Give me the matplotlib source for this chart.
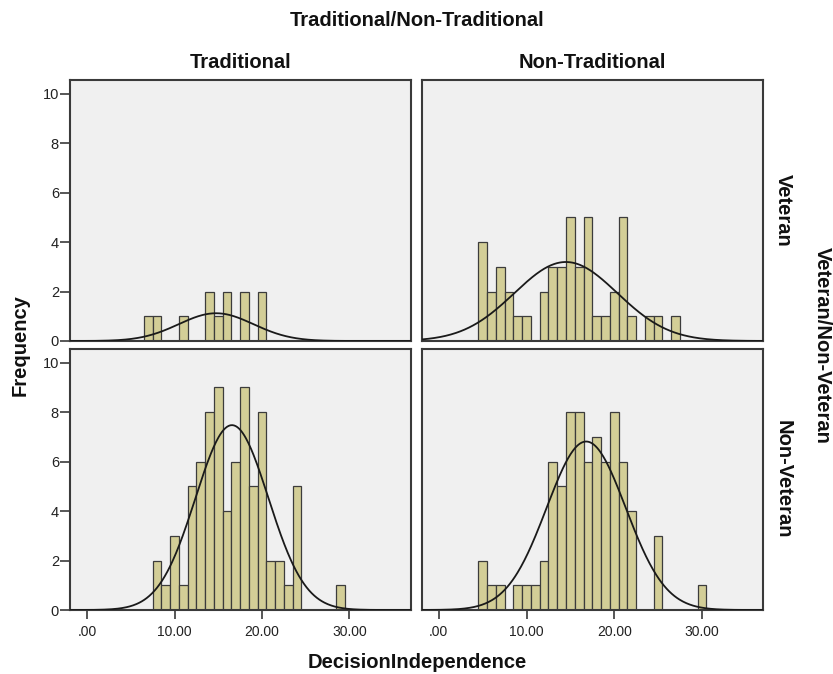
import numpy as np
import matplotlib
matplotlib.use("Agg")
import matplotlib.pyplot as plt

plt.rcParams['font.family'] = ['Liberation Sans', 'DejaVu Sans']

# ---- data (bin centres, bin width = 1) ----
trad_vet_values = [7, 8, 11, 14, 15, 16, 18, 20]
trad_vet_counts = [1, 1, 1, 2, 1, 2, 2, 2]

nontrad_vet_values = [5, 6, 7, 8, 9, 10, 12, 13, 14, 15, 16, 17, 18, 19, 20, 21, 22, 24, 25, 27]
nontrad_vet_counts = [4, 2, 3, 2, 1, 1, 2, 3, 3, 5, 3, 5, 1, 1, 2, 5, 1, 1, 1, 1]

trad_nonvet_values = [8, 9, 10, 11, 12, 13, 14, 15, 16, 17, 18, 19, 20, 21, 22, 23, 24, 29]
trad_nonvet_counts = [2, 1, 3, 1, 5, 6, 8, 9, 4, 6, 9, 5, 8, 2, 2, 1, 5, 1]

nontrad_nonvet_values = [5, 6, 7, 9, 10, 11, 12, 13, 14, 15, 16, 17, 18, 19, 20, 21, 22, 25, 30]
nontrad_nonvet_counts = [2, 1, 1, 1, 1, 1, 2, 6, 5, 8, 8, 6, 7, 6, 8, 6, 4, 3, 1]

col_labels = ["Traditional", "Non-Traditional"]
row_labels = ["Veteran", "Non-Veteran"]
x_ticks = [0, 10, 20, 30]
x_tick_labels = [".00", "10.00", "20.00", "30.00"]
y_ticks = [0, 2, 4, 6, 8, 10]

panels = [
    [(trad_vet_values, trad_vet_counts), (nontrad_vet_values, nontrad_vet_counts)],
    [(trad_nonvet_values, trad_nonvet_counts), (nontrad_nonvet_values, nontrad_nonvet_counts)],
]

W, H = 833, 674
fig = plt.figure(figsize=(W / 100, H / 100), dpi=100)

lefts = [70, 421.7]
widths = [340.7, 341.6]
tops = [80, 349]
ph = 261

bar_color = '#D3CE97'
edge_color = '#3C3C3C'
frame_color = '#3A3A3A'
bg = '#F0F0F0'

xlim = (-1.95, 37.0)
ylim = (0, 10.55)

for r in range(2):
    for c in range(2):
        x0 = lefts[c] / W
        y0 = 1 - (tops[r] + ph) / H
        ax = fig.add_axes([x0, y0, widths[c] / W, ph / H])
        ax.set_facecolor(bg)
        vals, cnts = panels[r][c]
        vals = np.array(vals, dtype=float)
        cnts = np.array(cnts, dtype=float)
        ax.bar(vals, cnts, width=1.0, color=bar_color, edgecolor=edge_color,
               linewidth=0.9, zorder=2)
        n = cnts.sum()
        mean = (vals * cnts).sum() / n
        sd = np.sqrt(((vals - mean) ** 2 * cnts).sum() / (n - 1))
        xs = np.linspace(xlim[0], xlim[1], 400)
        ys = n * 1.0 / (sd * np.sqrt(2 * np.pi)) * np.exp(-0.5 * ((xs - mean) / sd) ** 2)
        ax.plot(xs, ys, color='#1a1a1a', linewidth=1.3, zorder=3)
        ax.set_xlim(*xlim)
        ax.set_ylim(*ylim)
        for s in ax.spines.values():
            s.set_color(frame_color)
            s.set_linewidth(1.5)
        if c == 0:
            ax.set_yticks(y_ticks)
            ax.set_yticklabels([str(t) for t in y_ticks], fontsize=10.5, color='#222222')
            ax.tick_params(axis='y', direction='out', length=7, width=1.2,
                           color=frame_color, pad=1.0)
        else:
            ax.set_yticks([])
        if r == 1:
            ax.set_xticks(x_ticks)
            ax.set_xticklabels(x_tick_labels, fontsize=10, color='#222222')
            ax.tick_params(axis='x', direction='out', length=6.5, width=1.2,
                           color=frame_color, pad=4)
        else:
            ax.set_xticks([])

bold = dict(fontsize=14.5, fontweight='bold', color='#111111')
fig.text(417 / W, 1 - 20 / H, "Traditional/Non-Traditional", ha='center', va='center', **bold)
fig.text((lefts[0] + widths[0] / 2) / W, 1 - 62 / H, col_labels[0], ha='center', va='center', **bold)
fig.text((lefts[1] + widths[1] / 2) / W, 1 - 62 / H, col_labels[1], ha='center', va='center', **bold)
fig.text(783 / W, 1 - 210.5 / H, row_labels[0], ha='center', va='center', rotation=-90, **bold)
fig.text(783 / W, 1 - 479.5 / H, row_labels[1], ha='center', va='center', rotation=-90, **bold)
fig.text(822 / W, 1 - 345 / H, "Veteran/Non-Veteran", ha='center', va='center', rotation=-90, **bold)
fig.text(20 / W, 1 - 345 / H, "Frequency", ha='center', va='center', rotation=90, **bold)
fig.text(417 / W, 1 - 662 / H, "DecisionIndependence", ha='center', va='center', **bold)

fig.savefig("out.png", dpi=100, facecolor='white')
